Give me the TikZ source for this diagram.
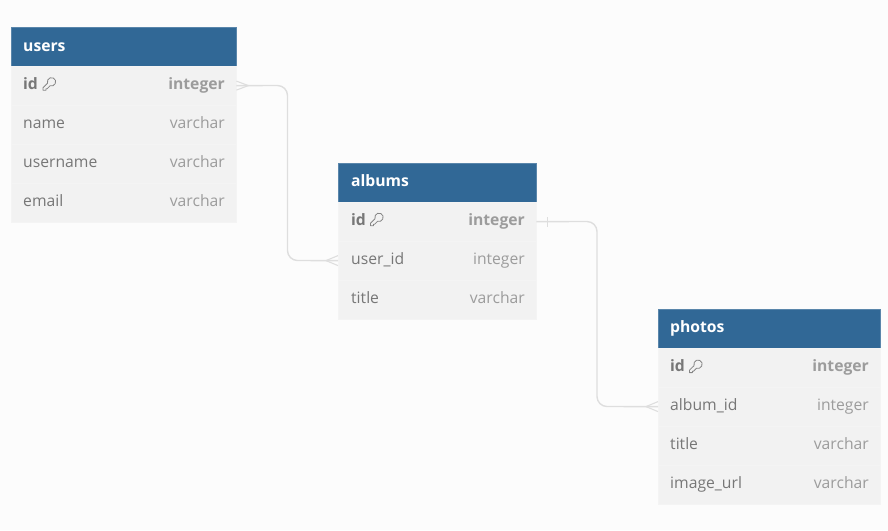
\documentclass[tikz,border=0pt]{standalone}
\usepackage{fontspec}
\setmainfont{Open Sans}
\definecolor{bgc}{HTML}{FCFCFC}
\definecolor{headc}{HTML}{316896}
\definecolor{rowc}{HTML}{F2F2F2}
\definecolor{sepc}{HTML}{F4F4F4}
\definecolor{namec}{HTML}{777777}
\definecolor{typec}{HTML}{9C9C9C}
\definecolor{linkc}{HTML}{DEDEDE}
\definecolor{keyc}{HTML}{858585}
\tikzset{
  x=1pt,y=-1pt,
  headbox/.style={rectangle,fill=headc,draw=headc!80!white,line width=0.4pt,inner sep=0pt,anchor=north west,minimum height=38.8pt},
  rowbox/.style={rectangle,fill=rowc,draw=sepc,line width=0.4pt,inner sep=0pt,anchor=north west,minimum height=38.8pt},
  headtxt/.style={anchor=base west,inner sep=0pt,text=white,font=\fontsize{15.7}{18}\selectfont\bfseries},
  nametxt/.style={anchor=base west,inner sep=0pt,text=namec,font=\fontsize{15.7}{18}\selectfont},
  typetxt/.style={anchor=base east,inner sep=0pt,text=typec,font=\fontsize{15.7}{18}\selectfont},
  pkname/.style={nametxt,font=\fontsize{15.7}{18}\selectfont\bfseries},
  pktype/.style={typetxt,font=\fontsize{15.7}{18}\selectfont\bfseries},
  link/.style={draw=linkc,line width=1.4pt,rounded corners=10pt},
  foot/.style={draw=linkc,line width=1.1pt},
  keyicon/.pic={
    \draw[keyc,line width=0.8pt,line join=round]
      (-3.95,1.44) arc[start angle=160,end angle=470,radius=4.2]
      -- (-4.4,7) -- (-5.6,7) -- (-5.6,8.4) -- (-8.6,8.4) -- (-8.6,6) -- cycle;
  }
}
\begin{document}
\begin{tikzpicture}
\fill[bgc] (0,0) rectangle (888,530);
\useasboundingbox (0,0) rectangle (888,530);

% users
\node[headbox,minimum width=225pt] (usershead) at (11,27) {};
\node[rowbox,minimum width=225pt] (usersid) at (11,66) {};
\node[rowbox,minimum width=225pt] (usersname) at (11,105) {};
\node[rowbox,minimum width=225pt] (usersusername) at (11,144) {};
\node[rowbox,minimum width=225pt] (usersemail) at (11,183) {};
\node[headtxt] (t1) at (23,51.4) {users};
\node[pkname] (t2) at (23,89) {id};
\node[pktype] (t3) at (225,89) {integer};
\node[nametxt] (t4) at (23,128) {name};
\node[typetxt] (t5) at (225,128) {varchar};
\node[nametxt] (t6) at (23,167) {username};
\node[typetxt] (t7) at (225,167) {varchar};
\node[nametxt] (t8) at (23,206) {email};
\node[typetxt] (t9) at (225,206) {varchar};
\pic at (51.5,81.8) {keyicon};

% albums
\node[headbox,minimum width=198pt] (albumshead) at (338,163) {};
\node[rowbox,minimum width=198pt] (albumsid) at (338,202) {};
\node[rowbox,minimum width=198pt] (albumsuser) at (338,241) {};
\node[rowbox,minimum width=198pt] (albumstitle) at (338,280) {};
\node[headtxt] (a1) at (351,186.4) {albums};
\node[pkname] (a2) at (351,225) {id};
\node[pktype] (a3) at (525,225) {integer};
\node[nametxt] (a4) at (351,264) {user\_id};
\node[typetxt] (a5) at (525,264) {integer};
\node[nametxt] (a6) at (351,303) {title};
\node[typetxt] (a7) at (525,303) {varchar};
\pic at (379,217.3) {keyicon};

% photos
\node[headbox,minimum width=222pt] (photoshead) at (658,309) {};
\node[rowbox,minimum width=222pt] (photosid) at (658,348) {};
\node[rowbox,minimum width=222pt] (photosalbum) at (658,387) {};
\node[rowbox,minimum width=222pt] (photostitle) at (658,426) {};
\node[rowbox,minimum width=222pt] (photosurl) at (658,465) {};
\node[headtxt] (p1) at (670,332.4) {photos};
\node[pkname] (p2) at (670,371) {id};
\node[pktype] (p3) at (869,371) {integer};
\node[nametxt] (p4) at (670,410) {album\_id};
\node[typetxt] (p5) at (869,410) {integer};
\node[nametxt] (p6) at (670,449) {title};
\node[typetxt] (p7) at (869,449) {varchar};
\node[nametxt] (p8) at (670,488) {image\_url};
\node[typetxt] (p9) at (869,488) {varchar};
\pic at (698,364.2) {keyicon};

% connectors
\draw[link] (usersid.east) -- (287.5,85.5) -- (287.5,260.5) -- (albumsuser.west);
\draw[link] (albumsid.east) -- (597,221.5) -- (597,406.5) -- (photosalbum.west);

% crow's feet and tick
\draw[foot] ([yshift=-4.5pt]usersid.east) -- ([xshift=12pt]usersid.east) -- ([yshift=4.5pt]usersid.east);
\draw[foot] ([yshift=-5pt]albumsuser.west) -- ([xshift=-12pt]albumsuser.west) -- ([yshift=5pt]albumsuser.west);
\draw[foot] ([yshift=-5pt]photosalbum.west) -- ([xshift=-12pt]photosalbum.west) -- ([yshift=5pt]photosalbum.west);
\draw[foot] ([xshift=11pt,yshift=-5pt]albumsid.east) -- ([xshift=11pt,yshift=5pt]albumsid.east);
\end{tikzpicture}
\end{document}
